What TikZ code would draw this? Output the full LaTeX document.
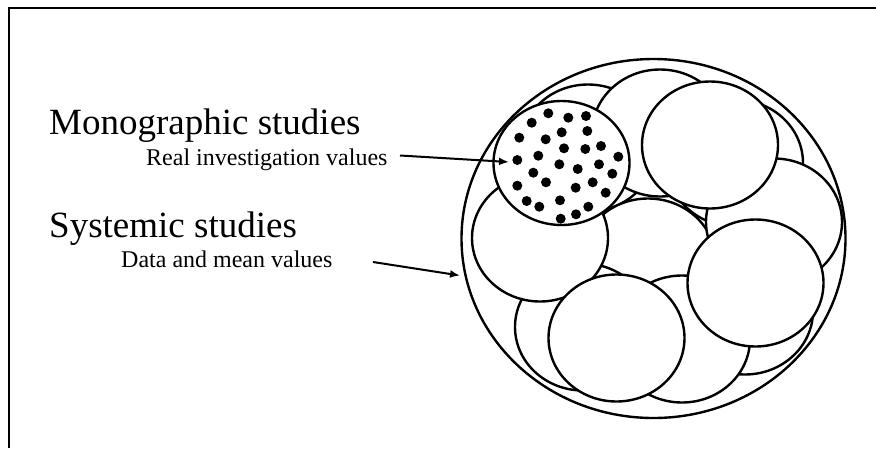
\documentclass[tikz,border=0pt]{standalone}
\usepackage{fontspec}
\setmainfont{Liberation Serif}
\usetikzlibrary{arrows.meta}
\begin{document}
\begin{tikzpicture}[x=1pt,y=-1pt,
  circ/.style={draw, line width=2.4pt, fill=white},
  dotmark/.style={fill=black},
  big/.style={font=\fontsize{37}{40}\selectfont, anchor=base west, inner sep=0pt},
  small/.style={font=\fontsize{24}{28}\selectfont, anchor=base west, inner sep=0pt},
  arr/.style={line width=2pt, -{Latex[length=10pt,width=8pt]}},
  frameline/.style={line width=2pt}]
\useasboundingbox (0,0) rectangle (876,448);
\draw[frameline] (8.5,448) -- (8.5,7.5) -- (876,7.5);
% outer circle
\draw[circ] (653.5,238.5) ellipse [x radius=192pt, y radius=179.5pt];
% inner circles, back to front
\foreach \cx/\cy in {588/148, 660/133, 735/163, 745/311, 648/262, 774/222,
                     583/327, 682/339, 540/238, 616.5/338, 755.5/283, 710/145}
  \draw[circ] (\cx,\cy) ellipse [x radius=68pt, y radius=63.5pt];
% dotted circle
\draw[circ] (561.5,163) ellipse [x radius=68pt, y radius=62pt];
\foreach \dx/\dy in {548.3/113.3, 531.7/122.7, 568.3/117.7, 586/116, 519.3/137.7,
  545.7/139.3, 561.7/132.3, 587.3/131, 564/148.3, 585.3/149, 601/146, 618.3/156.7,
  517.3/160, 538.3/155.7, 559.3/164.3, 577.7/169, 599/164.3, 612.3/173.7,
  533.3/172.7, 546/182.3, 517.3/185.7, 575.7/187.7, 592.7/182.3, 605.7/192.7,
  526.7/201, 539.3/206.7, 560/200.3, 588.3/206.7, 560.7/218.7, 576/214.3}
  \fill[dotmark] (\dx,\dy) circle [radius=5pt];
% labels
\node[big] (mono) at (49,134) {Monographic studies};
\node[small] (real) at (146,165) {Real investigation values};
\node[big] (sys) at (49,237) {Systemic studies};
\node[small] (data) at (121,267) {Data and mean values};
% arrows
\coordinate (a1s) at (400,155.5);
\coordinate (a1e) at (509,162);
\coordinate (a2s) at (373,262);
\coordinate (a2e) at (460,275.5);
\draw[arr] (a1s) -- (a1e);
\draw[arr] (a2s) -- (a2e);
\end{tikzpicture}
\end{document}
